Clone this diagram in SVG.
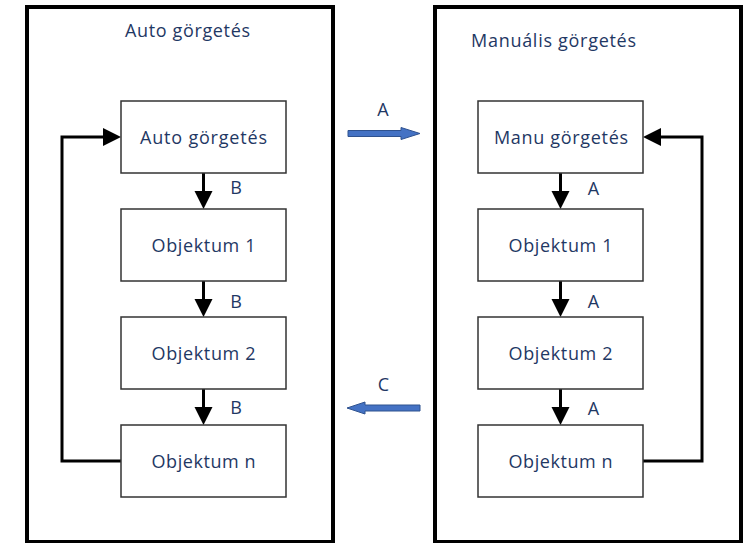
<svg xmlns="http://www.w3.org/2000/svg" width="744" height="543" viewBox="0 0 744 543">
<style>
.frame{fill:#fff;stroke:#000;stroke-width:4}
.box{fill:#fff;stroke:#333;stroke-width:1.5}
.t{font-family:"Open Sans","Liberation Sans",Arial,sans-serif;font-size:18px;fill:#1f3864;text-anchor:middle}
.conn{fill:none;stroke:#000;stroke-width:3}
.head{fill:#000}
.blue{fill:#4472c4;stroke:#2f528f;stroke-width:1}
</style>
<rect width="744" height="543" fill="#fff"/>
<g id="auto-panel">
<rect class="frame" x="27" y="7" width="306" height="535"/>
<text class="t" x="187.5" y="37" textLength="125" lengthAdjust="spacing">Auto görgetés</text>
</g>
<g id="manual-panel">
<rect class="frame" x="435" y="7" width="306" height="535"/>
<text class="t" x="553.5" y="47" textLength="165" lengthAdjust="spacing">Manuális görgetés</text>
</g>
<g id="connectors">
<polyline class="conn" points="121,461 62,461 62,137 104,137"/>
<polygon class="head" points="103,128 121,137 103,146"/>
<polyline class="conn" points="643,461 702,461 702,137 660,137"/>
<polygon class="head" points="661,128 643,137 661,146"/>
<line class="conn" x1="203.5" y1="173" x2="203.5" y2="193"/>
<polygon class="head" points="194.5,191 212.5,191 203.5,209"/>
<line class="conn" x1="203.5" y1="281" x2="203.5" y2="301"/>
<polygon class="head" points="194.5,299 212.5,299 203.5,317"/>
<line class="conn" x1="203.5" y1="389" x2="203.5" y2="409"/>
<polygon class="head" points="194.5,407 212.5,407 203.5,425"/>
<line class="conn" x1="560.5" y1="173" x2="560.5" y2="193"/>
<polygon class="head" points="551.5,191 569.5,191 560.5,209"/>
<line class="conn" x1="560.5" y1="281" x2="560.5" y2="301"/>
<polygon class="head" points="551.5,299 569.5,299 560.5,317"/>
<line class="conn" x1="560.5" y1="389" x2="560.5" y2="409"/>
<polygon class="head" points="551.5,407 569.5,407 560.5,425"/>
<text class="t" x="236" y="194">B</text>
<text class="t" x="236" y="308">B</text>
<text class="t" x="236" y="414">B</text>
<text class="t" x="593.5" y="195">A</text>
<text class="t" x="593.5" y="308">A</text>
<text class="t" x="593.5" y="415">A</text>
<polygon class="blue" points="348,130.5 401,130.5 401,127.5 420,133.5 401,139.5 401,136.5 348,136.5"/>
<text class="t" x="383" y="116">A</text>
<polygon class="blue" points="420,405 365,405 365,402 347,408 365,414 365,411 420,411"/>
<text class="t" x="383.5" y="391">C</text>
</g>
<g id="auto-scroll">
<rect class="box" x="121" y="101" width="165" height="72"/>
<text class="t" x="203.5" y="144" textLength="127" lengthAdjust="spacing">Auto görgetés</text>
</g>
<g id="auto-obj1">
<rect class="box" x="121" y="209" width="165" height="72"/>
<text class="t" x="203.5" y="252" textLength="104" lengthAdjust="spacing">Objektum 1</text>
</g>
<g id="auto-obj2">
<rect class="box" x="121" y="317" width="165" height="72"/>
<text class="t" x="203.5" y="360" textLength="104" lengthAdjust="spacing">Objektum 2</text>
</g>
<g id="auto-objn">
<rect class="box" x="121" y="425" width="165" height="72"/>
<text class="t" x="203.5" y="468" textLength="104" lengthAdjust="spacing">Objektum n</text>
</g>
<g id="manu-scroll">
<rect class="box" x="478" y="101" width="165" height="72"/>
<text class="t" x="561" y="144" textLength="134" lengthAdjust="spacing">Manu görgetés</text>
</g>
<g id="manu-obj1">
<rect class="box" x="478" y="209" width="165" height="72"/>
<text class="t" x="560.5" y="252" textLength="104" lengthAdjust="spacing">Objektum 1</text>
</g>
<g id="manu-obj2">
<rect class="box" x="478" y="317" width="165" height="72"/>
<text class="t" x="560.5" y="360" textLength="104" lengthAdjust="spacing">Objektum 2</text>
</g>
<g id="manu-objn">
<rect class="box" x="478" y="425" width="165" height="72"/>
<text class="t" x="560.5" y="468" textLength="104" lengthAdjust="spacing">Objektum n</text>
</g>
</svg>
